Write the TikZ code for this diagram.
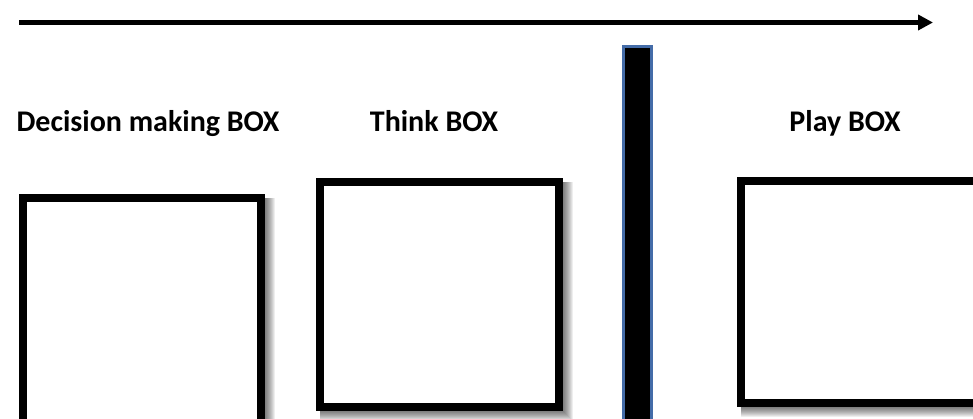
\documentclass[tikz,border=0pt]{standalone}
\usepackage{fontspec}
\setmainfont{Carlito}
\usetikzlibrary{arrows.meta,backgrounds}
\definecolor{barblue}{RGB}{68,108,168}
\tikzset{
  boxnode/.style={draw=black, fill=white, line width=8pt, inner sep=0pt, outer sep=4pt},
  label text/.style={font=\fontsize{30}{36}\selectfont\bfseries, anchor=base, inner sep=0pt},
  timeline/.style={line width=4.5pt, -{Triangle[length=15pt,width=15pt]}},
  barnode/.style={draw=barblue, fill=black, line width=3pt, inner sep=0pt}
}
\begin{document}
\begin{tikzpicture}[x=1pt,y=-1pt]
\useasboundingbox (0,0) rectangle (973,419);
\clip (0,0) rectangle (973,419);
% time arrow
\coordinate (as) at (19,22.5);
\coordinate (ae) at (933,22.5);
\draw[timeline] (as) -- (ae);
% labels
\node[label text] (tdm) at (148,132) {Decision making BOX};
\node[label text] (tth) at (434,132) {Think BOX};
\node[label text] (tpl) at (845,132) {Play BOX};
% boxes
\node[boxnode, minimum width=238pt, minimum height=228pt] (dm) at (142,312) {};
\node[boxnode, minimum width=239pt, minimum height=225pt] (th) at (439.5,294.5) {};
\node[boxnode, minimum width=240pt, minimum height=222pt] (pl) at (861,292) {};
% divider bar
\node[barnode, minimum width=28pt, minimum height=384pt] (bar) at (637.5,238.5) {};
% soft shadows (right and bottom)
\begin{scope}[on background layer]
\foreach \n in {dm,th,pl}{
  \foreach \g in {0,...,9}{
    \fill[black, opacity=0.065]
      ([shift={(4,4)}]\n.north west) rectangle ([shift={(1+\g,1+\g)}]\n.south east);
  }
}
\end{scope}
\end{tikzpicture}
\end{document}
